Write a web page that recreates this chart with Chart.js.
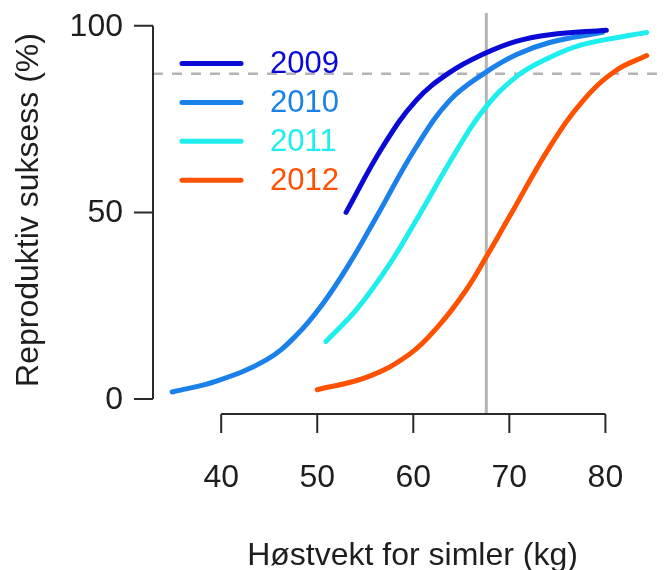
<!DOCTYPE html>
<html>
<head>
<meta charset="utf-8">
<script src="https://cdn.jsdelivr.net/npm/chart.js@4/dist/chart.umd.min.js"></script>
<style>
  html, body { margin: 0; padding: 0; background: #fff; }
  canvas { display: block; }
</style>
</head>
<body>
<canvas id="chart" width="664" height="570"></canvas>
<script>
// Høstvekt (kg) og reproduktiv suksess (%) per år
const years = ['2009', '2010', '2011', '2012'];

const weights2009 = [53.0, 56.8, 60.3, 63.8, 67.3, 70.7, 74.2, 80.1];
const success2009 = [50.0, 67.5, 80.0, 87.5, 92.4, 95.8, 97.6, 98.8];

const weights2010 = [34.9, 39.5, 44.7, 47.8, 50.6, 53.4, 56.1, 60.3, 63.8, 67.3, 70.7, 74.2, 79.7];
const success2010 = [1.9, 4.8, 10.5, 17.0, 25.6, 36.5, 48.5, 67.5, 80.0, 87.1, 92.2, 95.5, 98.2];

const weights2011 = [50.9, 54.1, 57.5, 60.3, 64.5, 67.3, 70.7, 74.2, 77.7, 84.3];
const success2011 = [15.4, 24.0, 36.0, 47.9, 66.5, 77.4, 86.3, 91.5, 95.0, 98.2];

const weights2012 = [50.0, 55.1, 59.6, 62.7, 65.5, 67.6, 70.0, 74.2, 77.7, 81.1, 84.3];
const success2012 = [2.5, 5.8, 12.0, 19.8, 29.2, 38.1, 48.8, 67.5, 80.0, 88.0, 92.0];

// aksemerker
const xTicks = [40, 50, 60, 70, 80];
const yTicks = [0, 50, 100];

// referanselinjer
const refWeight = 67.6;
const refSuccess = 87.1;

const lineColors = ['#0a0ad6', '#1a80ea', '#1eeeee', '#ff5200'];
const FONT = '"Liberation Sans", Arial, Helvetica, sans-serif';

const series = [
  [weights2009, success2009],
  [weights2010, success2010],
  [weights2011, success2011],
  [weights2012, success2012],
];

const datasets = series.map(([xs, ys], i) => ({
  label: years[i],
  data: xs.map((w, j) => ({ x: w, y: ys[j] })),
  borderColor: lineColors[i],
  borderWidth: 5,
  pointRadius: 0,
  fill: false,
  tension: 0.4,
  borderCapStyle: 'round',
  borderJoinStyle: 'round',
}));

// grå referanselinjer under kurvene
const refLines = {
  id: 'refLines',
  beforeDatasetsDraw(chart) {
    const { ctx, chartArea, scales: { x, y } } = chart;
    ctx.save();
    ctx.strokeStyle = '#b4b4b4';
    ctx.lineWidth = 3;
    const px = x.getPixelForValue(refWeight);
    ctx.beginPath();
    ctx.moveTo(px, chartArea.top);
    ctx.lineTo(px, chartArea.bottom);
    ctx.stroke();

    ctx.setLineDash([10, 9]);
    ctx.lineWidth = 2.5;
    const py = y.getPixelForValue(refSuccess);
    ctx.beginPath();
    ctx.moveTo(chartArea.left, py);
    ctx.lineTo(chartArea.right, py);
    ctx.stroke();
    ctx.restore();
  },
};

// akser i R-stil, titler og forklaring
const axesAndLegend = {
  id: 'axesAndLegend',
  afterDatasetsDraw(chart) {
    const { ctx, chartArea, scales: { x, y } } = chart;
    const tickLen = 19;
    ctx.save();
    ctx.strokeStyle = '#2a2a2a';
    ctx.lineWidth = 2;
    ctx.lineCap = 'butt';

    // x-akse
    const xa = chartArea.bottom;
    ctx.beginPath();
    ctx.moveTo(x.getPixelForValue(xTicks[0]), xa);
    ctx.lineTo(x.getPixelForValue(xTicks[xTicks.length - 1]), xa);
    xTicks.forEach(v => {
      const p = x.getPixelForValue(v);
      ctx.moveTo(p, xa);
      ctx.lineTo(p, xa + tickLen);
    });
    ctx.stroke();

    // y-akse
    const ya = chartArea.left;
    ctx.beginPath();
    ctx.moveTo(ya, y.getPixelForValue(yTicks[0]));
    ctx.lineTo(ya, y.getPixelForValue(yTicks[yTicks.length - 1]));
    yTicks.forEach(v => {
      const p = y.getPixelForValue(v);
      ctx.moveTo(ya, p);
      ctx.lineTo(ya - tickLen, p);
    });
    ctx.stroke();

    ctx.fillStyle = '#1e1e1e';
    ctx.font = '32px ' + FONT;
    ctx.textAlign = 'center';
    ctx.textBaseline = 'alphabetic';
    xTicks.forEach(v => ctx.fillText(String(v), x.getPixelForValue(v), 487));

    ctx.textAlign = 'right';
    ctx.textBaseline = 'middle';
    yTicks.forEach(v => ctx.fillText(String(v), 123, y.getPixelForValue(v) + 1));

    // aksetitler
    ctx.textAlign = 'center';
    ctx.textBaseline = 'alphabetic';
    ctx.fillText('Høstvekt for simler (kg)', (chartArea.left + 672) / 2, 565);

    ctx.save();
    ctx.translate(38, 210);
    ctx.rotate(-Math.PI / 2);
    ctx.fillText('Reproduktiv suksess (%)', 0, 0);
    ctx.restore();

    // forklaring
    ctx.lineCap = 'round';
    ctx.lineWidth = 5;
    ctx.font = '31px ' + FONT;
    ctx.textAlign = 'left';
    ctx.textBaseline = 'middle';
    chart.data.datasets.forEach((ds, i) => {
      const ly = 63.5 + i * 38.9;
      ctx.strokeStyle = ds.borderColor;
      ctx.beginPath();
      ctx.moveTo(182, ly);
      ctx.lineTo(241, ly);
      ctx.stroke();
      ctx.fillStyle = ds.borderColor;
      ctx.fillText(ds.label, 270, ly + 1);
    });
    ctx.restore();
  },
};

new Chart(document.getElementById('chart').getContext('2d'), {
  type: 'line',
  data: { datasets },
  options: {
    responsive: false,
    devicePixelRatio: 1,
    animation: false,
    layout: { padding: { left: 153, top: 13, right: 0, bottom: 156 } },
    scales: {
      x: { type: 'linear', min: 32.9, max: 86.1, display: false },
      y: { type: 'linear', min: -4, max: 103.4, display: false },
    },
    plugins: {
      legend: { display: false },
      tooltip: { enabled: false },
    },
  },
  plugins: [refLines, axesAndLegend],
});
</script>
</body>
</html>
